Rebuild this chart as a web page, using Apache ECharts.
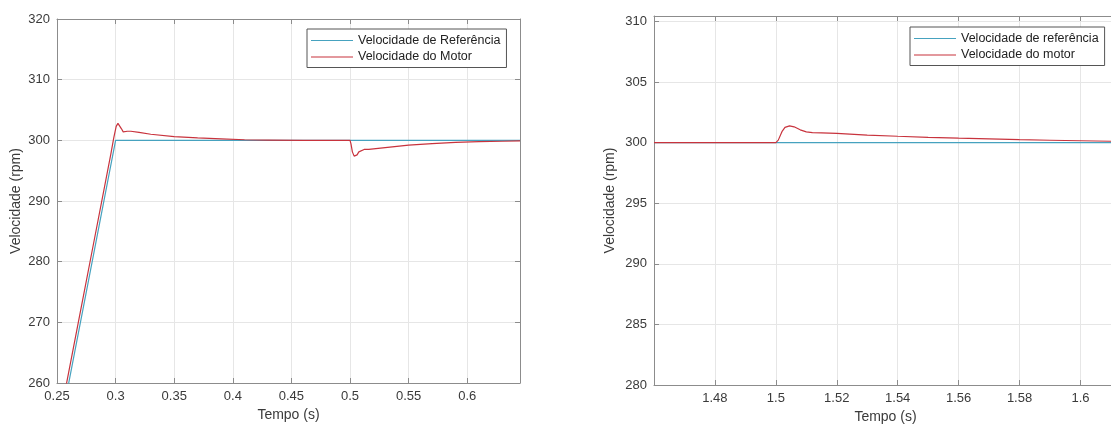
<!DOCTYPE html>
<html>
<head>
<meta charset="utf-8">
<script src="https://cdn.jsdelivr.net/npm/echarts@6/dist/echarts.min.js"></script>
<style>
  html, body { margin: 0; padding: 0; background: #fff; }
  #main { width: 1111px; height: 428px; }
</style>
</head>
<body>
<div id="main"></div>
<script>
// dados (partida ate 300 rpm + degrau de carga)
var refTimeA = [0.25, 0.3, 0.645];
var refSpeedA = [250, 300, 300];
var motorTimeA = [0.25, 0.26, 0.27, 0.28, 0.29, 0.296, 0.2985, 0.3005, 0.302, 0.3035, 0.305, 0.3065, 0.308, 0.31, 0.313,
  0.32, 0.33, 0.35, 0.37, 0.39, 0.41, 0.43, 0.46, 0.5, 0.5008, 0.502, 0.5035, 0.5045, 0.506, 0.5075, 0.509, 0.512,
  0.516, 0.52, 0.53, 0.54, 0.55, 0.57, 0.59, 0.61, 0.63, 0.645];
var motorSpeedA = [251.8, 261.8, 271.8, 281.8, 291.8, 297.8, 300.5, 302.3, 302.8, 302.6, 301.9, 301.4, 301.3, 301.5, 301.5,
  301.3, 301.0, 300.6, 300.4, 300.25, 300.1, 300.05, 300.0, 300.0, 299.4, 298.1, 297.4, 297.3, 297.6, 298.1, 298.4, 298.5,
  298.5, 298.6, 298.8, 299.0, 299.2, 299.45, 299.65, 299.8, 299.85, 299.9];

var refTimeB = [1.46, 1.5, 1.612];
var refSpeedB = [300, 300, 300];
var motorTimeB = [1.46, 1.48, 1.5, 1.5008, 1.502, 1.503, 1.5045, 1.506, 1.508, 1.51, 1.512, 1.515, 1.52, 1.53, 1.54,
  1.55, 1.56, 1.57, 1.58, 1.59, 1.6, 1.612];
var motorSpeedB = [300, 300, 300, 300.2, 300.9, 301.25, 301.38, 301.3, 301.05, 300.88, 300.82, 300.8, 300.75, 300.62, 300.52,
  300.43, 300.36, 300.3, 300.24, 300.19, 300.15, 300.1];

var namesA = ['Velocidade de Referência', 'Velocidade do Motor'];
var namesB = ['Velocidade de referência', 'Velocidade do motor'];

var xRangeA = [0.25, 0.645], xStepA = 0.05;
var yRangeA = [260, 320], yStepA = 10;
var xRangeB = [1.46, 1.612], xStepB = 0.02;
var yRangeB = [280, 310.44], yStepB = 5;

var corRef = '#46a2bf';
var corMotor = '#c8333d';
var corEixo = '#8c8c8c';
var corTexto = '#3a3a3a';
var fonte = '"Liberation Sans", Arial, sans-serif';

function pares(t, v) {
  return t.map(function (x, i) { return [x, v[i]]; });
}

function rotulo(step) {
  return function (v) {
    var k = Math.round(v / step);
    if (Math.abs(v - k * step) > step * 1e-3) return '';
    return String(+(k * step).toFixed(4));
  };
}

function eixoX(grid, range, step, pos, nome, extra) {
  var e = {
    type: 'value', gridIndex: grid, position: pos, min: range[0], max: range[1], interval: step,
    axisLine: { show: true, lineStyle: { color: corEixo, width: 1 } },
    axisTick: { show: true, inside: true, length: 5, lineStyle: { color: corEixo } },
    axisLabel: { show: pos === 'bottom', formatter: rotulo(step), color: corTexto, fontSize: 13, fontFamily: fonte, margin: 7 },
    splitLine: { show: pos === 'bottom', lineStyle: { color: '#e6e6e6', width: 1 } }
  };
  if (nome) {
    e.name = nome; e.nameLocation = 'middle'; e.nameGap = 23;
    e.nameTextStyle = { color: corTexto, fontSize: 14, fontFamily: fonte };
  }
  if (extra) Object.assign(e.axisLabel, extra);
  return e;
}

function eixoY(grid, range, step, pos, nome, gap) {
  var e = {
    type: 'value', gridIndex: grid, position: pos, min: range[0], max: range[1], interval: step,
    axisLine: { show: true, onZero: false, lineStyle: { color: corEixo, width: 1 } },
    axisTick: { show: true, inside: true, length: 5, lineStyle: { color: corEixo } },
    axisLabel: { show: pos === 'left', formatter: rotulo(step), color: corTexto, fontSize: 13, fontFamily: fonte, margin: 7 },
    splitLine: { show: pos === 'left', lineStyle: { color: '#e6e6e6', width: 1 } }
  };
  if (nome) {
    e.name = nome; e.nameLocation = 'middle'; e.nameGap = gap;
    e.nameTextStyle = { color: corTexto, fontSize: 14, fontFamily: fonte };
  }
  return e;
}

function legenda(nomes, left, top) {
  return {
    data: nomes, orient: 'vertical', left: left, top: top,
    icon: 'rect', itemWidth: 42, itemHeight: 1.2, itemGap: 3.5,
    backgroundColor: '#fff', borderColor: '#555', borderWidth: 1, borderRadius: 0,
    padding: [5, 6, 4, 4],
    textStyle: { color: '#222', fontSize: 12.5, fontFamily: fonte },
    selectedMode: false
  };
}

function serie(nome, dados, cor, xi, yi) {
  return {
    name: nome, type: 'line', data: dados, xAxisIndex: xi, yAxisIndex: yi,
    symbol: 'none', smooth: false, clip: true, animation: false,
    lineStyle: { color: cor, width: 1.2 }, itemStyle: { color: cor }
  };
}

var myChart = echarts.init(document.getElementById('main'), null, { renderer: 'canvas' });

var option = {
  backgroundColor: '#fff',
  animation: false,
  grid: [
    { left: 57, top: 19, width: 463, height: 364, containLabel: false, outerBoundsMode: 'none' },
    { left: 654, top: 16, width: 463, height: 369, containLabel: false, outerBoundsMode: 'none' }
  ],
  legend: [legenda(namesA, 307, 29), legenda(namesB, 910, 27)],
  xAxis: [
    eixoX(0, xRangeA, xStepA, 'bottom', 'Tempo (s)'),
    eixoX(0, xRangeA, xStepA, 'top'),
    eixoX(1, xRangeB, xStepB, 'bottom', 'Tempo (s)', { showMinLabel: false }),
    eixoX(1, xRangeB, xStepB, 'top')
  ],
  yAxis: [
    eixoY(0, yRangeA, yStepA, 'left', 'Velocidade (rpm)', 34),
    eixoY(0, yRangeA, yStepA, 'right'),
    eixoY(1, yRangeB, yStepB, 'left', 'Velocidade (rpm)', 37),
    eixoY(1, yRangeB, yStepB, 'right')
  ],
  series: [
    serie(namesA[0], pares(refTimeA, refSpeedA), corRef, 0, 0),
    serie(namesA[1], pares(motorTimeA, motorSpeedA), corMotor, 0, 0),
    serie(namesB[0], pares(refTimeB, refSpeedB), corRef, 2, 2),
    serie(namesB[1], pares(motorTimeB, motorSpeedB), corMotor, 2, 2)
  ]
};

myChart.setOption(option);
</script>
</body>
</html>
